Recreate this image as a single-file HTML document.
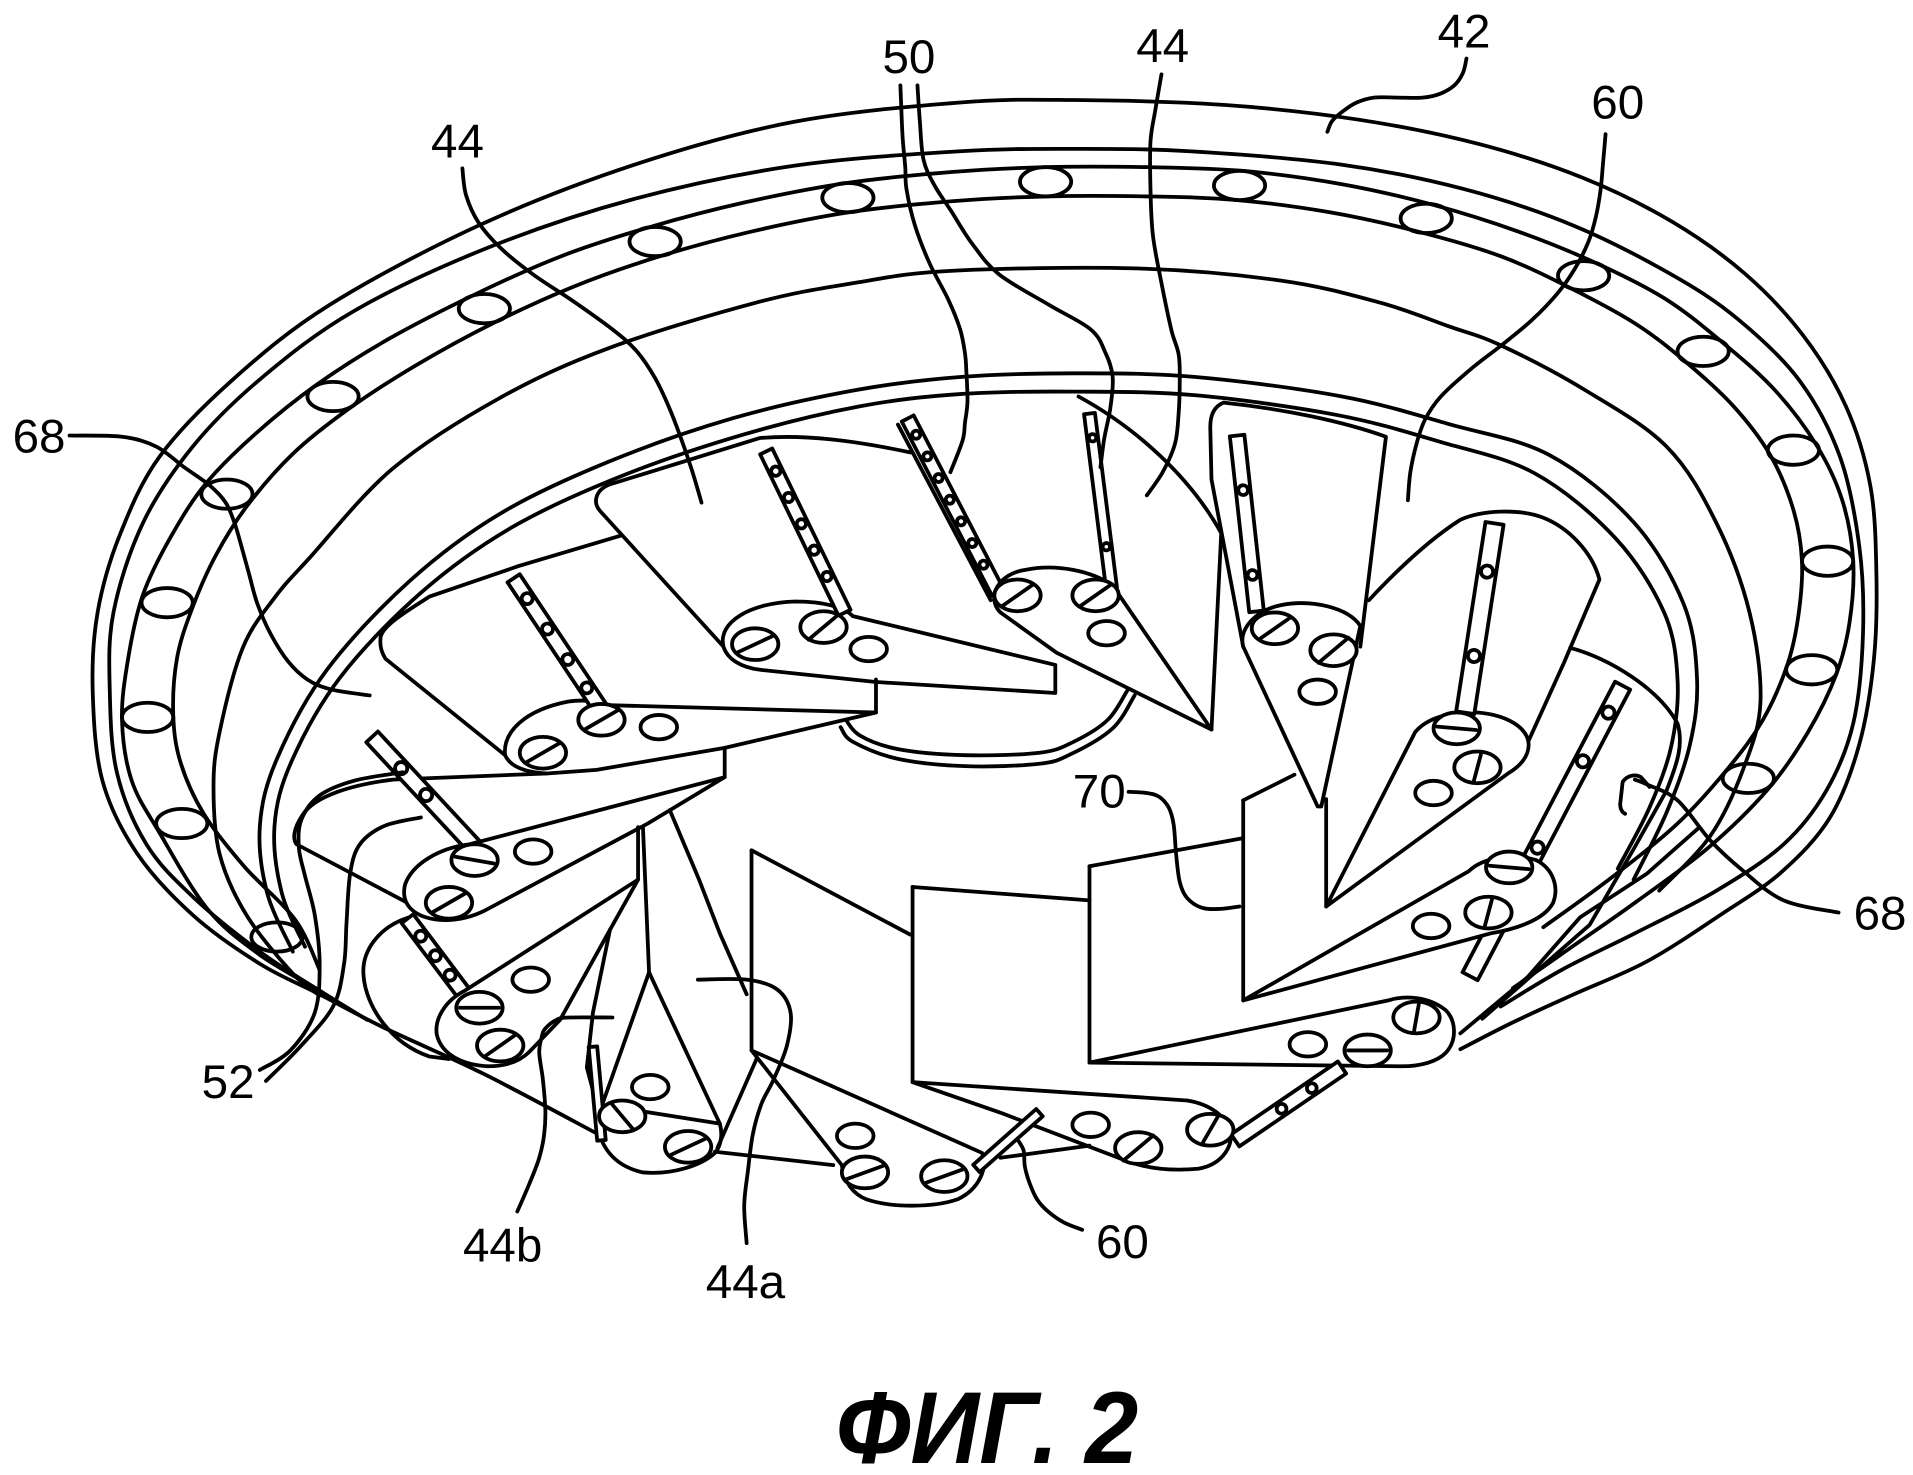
<!DOCTYPE html>
<html><head><meta charset="utf-8"><style>
html,body{margin:0;padding:0;background:#fff;}
svg{display:block;}
</style></head><body>
<svg id="fig" width="1913" height="1475" viewBox="0 0 1568 1209" preserveAspectRatio="none" xmlns="http://www.w3.org/2000/svg">
<rect x="0" y="0" width="1568" height="1209" fill="#fff"/>
<g fill="none" stroke="#000" stroke-width="3.1" stroke-linejoin="round" stroke-linecap="round">
<!-- rings -->
<polyline class="s" points="489,929 396,880 314,842 262,815 213,790 158,750 112,699 84,640 76,567 80,502 98,439 131,374 191,311 270,250 392,185 520,135 650,100 787,84 880,82 1003,86 1113,98 1212,118 1298,146 1371,182 1431,225 1478,275 1513,333 1533,398 1538,470 1536,540 1524,610 1500,670 1460,715 1410,750 1350,788 1290,815 1240,838 1197,860"/>
<polyline class="s" points="301,836 262,812 213,780 158,735 120,692 96,634 90,567 93,502 117,429 158,366 213,311 290,255 400,203 520,163 650,136 787,124 880,122 975,124 1100,135 1200,155 1290,185 1370,225 1425,262 1475,312 1508,374 1524,448 1527,520 1519,593 1497,648 1462,692 1407,730 1340,765 1280,795 1230,825"/>
<polyline class="s" points="262,812 212,782 170,745 131,683 108,640 100,590 105,540 117,488 140,440 169,396 210,355 260,315 320,277 390,241 460,210 533,186 610,166 694,150 780,141 857,137 940,137 1018,140 1100,151 1175,168 1245,190 1309,216 1365,245 1411,280 1455,320 1489,365 1510,410 1519,460 1516,510 1505,553 1482,600 1449,647 1400,695 1340,740 1290,775 1240,810"/>
<polyline class="s" points="262,795 242,754 200,710 167,667 148,625 142,586 145,540 157,500 177,455 203,414 240,372 286,335 340,300 404,265 470,235 541,210 615,190 696,174 780,165 857,161 940,161 1014,164 1090,174 1163,190 1230,210 1287,236 1340,265 1381,296 1420,332 1451,373 1470,418 1477,460 1474,505 1465,545 1445,590 1417,629 1375,675 1320,720 1265,760"/>
<polyline class="s" points="262,816 240,798 202,750 180,700 175,645 180,600 199,531 225,490 254,457 322,384 410,326 500,285 620,248 700,232 779,222 930,220 1050,230 1131,248 1189,268 1230,283 1298,319 1366,366 1407,429 1434,502 1443,575 1429,630 1402,685 1360,730"/>
<polyline class="s" points="240,780 219,732 213,677 227,622 268,549 336,476 410,421 500,378 600,343 700,320 787,309 880,306 980,309 1100,325 1189,348 1270,373 1339,428 1380,495 1391,557 1385,611 1366,666 1339,721"/>
<polyline class="s" points="250,776 231,732 225,677 239,624 279,555 346,485 420,432 510,390 610,356 705,333 787,323 880,321 980,324 1095,340 1180,362 1258,388 1324,441 1364,502 1375,557 1370,611 1352,662 1326,712"/>
<!-- bolt holes -->
<g>
<ellipse cx="227" cy="768" rx="21" ry="12"/><ellipse cx="149" cy="675" rx="21" ry="12"/><ellipse cx="121" cy="588" rx="21" ry="12"/><ellipse cx="137" cy="494" rx="21" ry="12"/><ellipse cx="186" cy="405" rx="21" ry="12"/><ellipse cx="273" cy="325" rx="21" ry="12"/><ellipse cx="397" cy="253" rx="21" ry="12"/><ellipse cx="537" cy="198" rx="21" ry="12"/><ellipse cx="695" cy="162" rx="21" ry="12"/><ellipse cx="857" cy="149" rx="21" ry="12"/><ellipse cx="1016" cy="152" rx="21" ry="12"/><ellipse cx="1169" cy="179" rx="21" ry="12"/><ellipse cx="1298" cy="226" rx="21" ry="12"/><ellipse cx="1396" cy="288" rx="21" ry="12"/><ellipse cx="1470" cy="369" rx="21" ry="12"/><ellipse cx="1498" cy="460" rx="21" ry="12"/><ellipse cx="1485" cy="549" rx="21" ry="12"/><ellipse cx="1433" cy="638" rx="21" ry="12"/>
</g>
<!-- hub -->
<polyline class="s" points="692,588 705,603 736,614 791,619 852,617 880,608 908,590 924,566"/>
<polyline class="s" points="689,596 699,608 736,622 791,628 852,626 878,618 912,597 930,570"/>

<!-- V-T3 -->
<path d="M1003,330 C1050,335 1100,345 1136,358 L1115,530"/>
<path d="M1003,330 C995,333 992,340 992,350 L993,393 L1019,530"/>
<path d="M1019,530 C1015,515 1030,500 1050,496 C1075,491 1105,498 1115,513 L1083,661 L1080,661 Z" fill="#fff"/>
<g transform="translate(1014,357) rotate(83.7)"><rect x="0" y="-6" width="145" height="12" fill="#fff"/><circle cx="45" cy="0" r="4"/><circle cx="115" cy="0" r="4"/></g>
<g transform="translate(1045,515)"><ellipse rx="19" ry="13" fill="#fff"/><line x1="-16" y1="0" x2="16" y2="0" transform="rotate(-35)"/></g>
<g transform="translate(1093,533)"><ellipse rx="19" ry="13" fill="#fff"/><line x1="-16" y1="0" x2="16" y2="0" transform="rotate(-40)"/></g>
<ellipse cx="1080" cy="567" rx="15" ry="10" fill="#fff"/>

<!-- V-A -->
<path d="M747,371 C700,361 660,356 623,359 L500,397 C489,401 485,411 492,419 L593,530"/>
<path d="M593,530 C588,510 615,494 652,493 C676,493 692,498 699,505 L865,545 L865,568 L718,559 L623,549 C607,547 596,540 593,530 Z" fill="#fff"/>
<g transform="translate(628,370) rotate(64.1)"><rect x="0" y="-5.5" width="147" height="11" fill="#fff"/><circle cx="18" cy="0" r="3.8"/><circle cx="42" cy="0" r="3.8"/><circle cx="66" cy="0" r="3.8"/><circle cx="90" cy="0" r="3.8"/><circle cx="114" cy="0" r="3.8"/></g>
<g transform="translate(619,528)"><ellipse rx="19" ry="13" fill="#fff"/><line x1="-16" y1="0" x2="16" y2="0" transform="rotate(-25)"/></g>
<g transform="translate(675,514)"><ellipse rx="19" ry="13" fill="#fff"/><line x1="-16" y1="0" x2="16" y2="0" transform="rotate(-40)"/></g>
<ellipse cx="712" cy="532" rx="15" ry="10" fill="#fff"/>

<!-- V_top1 -->
<path d="M884,325 C930,350 975,390 1001,437 L993,598"/>
<path d="M736,348 L812,492"/>
<g transform="translate(744,343) rotate(62.6)"><rect x="0" y="-5.5" width="161" height="11" fill="#fff"/><circle cx="15" cy="0" r="3.3"/><circle cx="35" cy="0" r="3.3"/><circle cx="55" cy="0" r="3.3"/><circle cx="75" cy="0" r="3.3"/><circle cx="95" cy="0" r="3.3"/><circle cx="115" cy="0" r="3.3"/><circle cx="135" cy="0" r="3.3"/></g>
<path d="M820,502 C808,490 818,470 841,467 C866,462 895,468 912,480 L993,598 L866,535 Z" fill="#fff"/>
<g transform="translate(893,339) rotate(82.8)"><rect x="0" y="-4.5" width="144" height="9" fill="#fff"/><circle cx="20" cy="0" r="3"/><circle cx="110" cy="0" r="3"/></g>
<g transform="translate(834,488)"><ellipse rx="19" ry="13" fill="#fff"/><line x1="-16" y1="0" x2="16" y2="0" transform="rotate(-35)"/></g>
<g transform="translate(898,488)"><ellipse rx="19" ry="13" fill="#fff"/><line x1="-16" y1="0" x2="16" y2="0" transform="rotate(-35)"/></g>
<ellipse cx="907" cy="519" rx="15" ry="10" fill="#fff"/>

<!-- V-R1 -->
<path d="M1122,492 C1150,462 1175,440 1197,426 C1215,418 1245,417 1264,424 C1285,432 1305,452 1311,475 L1282,543 L1253,607"/>
<path d="M1087,655 L1087,743"/>
<path d="M1087,743 L1160,600 C1170,588 1190,583 1211,584 C1235,586 1252,596 1253,610 C1253,620 1246,628 1236,634 Z" fill="#fff"/>
<g transform="translate(1225,429) rotate(98.8)"><rect x="0" y="-7.5" width="157" height="15" fill="#fff"/><circle cx="40" cy="0" r="5"/><circle cx="110" cy="0" r="5"/></g>
<g transform="translate(1194,597)"><ellipse rx="19" ry="13" fill="#fff"/><line x1="-16" y1="0" x2="16" y2="0" transform="rotate(5)"/></g>
<g transform="translate(1211,629)"><ellipse rx="19" ry="13" fill="#fff"/><line x1="-11" y1="0" x2="11" y2="0" transform="rotate(-75)"/></g>
<ellipse cx="1175" cy="650" rx="15" ry="10" fill="#fff"/>

<!-- V-B -->
<path d="M509,439 L425,464 L352,489 C330,503 314,513 312,522 C311,530 313,535 316,540 L414,619"/>
<path d="M718,557 L718,584"/>
<path d="M414,619 C412,600 430,582 466,575 C480,573 490,575 498,578 L718,584 L594,613 L489,631 L448,634 C430,633 418,628 414,619 Z" fill="#fff"/>
<g transform="translate(421,474) rotate(56.3)"><rect x="0" y="-6" width="130" height="12" fill="#fff"/><circle cx="20" cy="0" r="4.5"/><circle cx="50" cy="0" r="4.5"/><circle cx="80" cy="0" r="4.5"/><circle cx="108" cy="0" r="4.5"/></g>
<g transform="translate(445,617)"><ellipse rx="19" ry="13" fill="#fff"/><line x1="-16" y1="0" x2="16" y2="0" transform="rotate(-30)"/></g>
<g transform="translate(493,590)"><ellipse rx="19" ry="13" fill="#fff"/><line x1="-16" y1="0" x2="16" y2="0" transform="rotate(-30)"/></g>
<ellipse cx="540" cy="596" rx="15" ry="10" fill="#fff"/>

<!-- V-R2 -->
<path d="M1287,531 C1320,540 1360,565 1375,593 C1380,610 1375,625 1366,648 L1339,696 L1303,758 L1255,800 L1215,835"/>
<path d="M1019,656 L1061,635"/>
<path d="M1019,656 L1019,820"/>
<g transform="translate(1330,562) rotate(117.7)"><rect x="0" y="-7" width="269" height="14" fill="#fff"/><circle cx="25" cy="0" r="5"/><circle cx="70" cy="0" r="5"/><circle cx="150" cy="0" r="5"/><circle cx="185" cy="0" r="5"/><circle cx="215" cy="0" r="5"/></g>
<path d="M1019,820 L1204,714 C1215,703 1240,699 1259,705 C1273,712 1278,727 1273,740 C1265,755 1240,762 1222,765 Z" fill="#fff"/>
<g transform="translate(1237,711)"><ellipse rx="19" ry="13" fill="#fff"/><line x1="-16" y1="0" x2="16" y2="0" transform="rotate(5)"/></g>
<g transform="translate(1220,748)"><ellipse rx="19" ry="13" fill="#fff"/><line x1="-11" y1="0" x2="11" y2="0" transform="rotate(-75)"/></g>
<ellipse cx="1173" cy="759" rx="15" ry="10" fill="#fff"/>

<!-- V-C -->
<path d="M594,613 L594,637"/>
<path d="M448,634 L322,639 C290,643 258,652 248,668 C240,680 240,688 243,692 L334,740"/>
<g transform="translate(305,604) rotate(47.1)"><rect x="0" y="-6.5" width="137" height="13" fill="#fff"/><circle cx="35" cy="0" r="5"/><circle cx="65" cy="0" r="5"/></g>
<path d="M594,637 L385,692 C360,695 338,708 332,725 C328,742 340,752 360,754 C375,755 388,751 398,746 L531,675 Z" fill="#fff"/>
<g transform="translate(389,705)"><ellipse rx="19" ry="13" fill="#fff"/><line x1="-16" y1="0" x2="16" y2="0" transform="rotate(10)"/></g>
<g transform="translate(368,740)"><ellipse rx="19" ry="13" fill="#fff"/><line x1="-16" y1="0" x2="16" y2="0" transform="rotate(-30)"/></g>
<ellipse cx="437" cy="698" rx="15" ry="10" fill="#fff"/>

<!-- V-R3 -->
<path d="M893,710 L1019,687"/>
<path d="M893,710 L893,871"/>
<path d="M1197,847 L1252,801 L1295,752 L1350,716 L1393,678"/>
<path d="M893,871 L1138,820 C1150,816 1170,816 1185,828 C1193,836 1195,852 1185,863 C1178,870 1165,874 1149,874 Z" fill="#fff"/>
<g transform="translate(1161,834)"><ellipse rx="19" ry="13" fill="#fff"/><line x1="-11" y1="0" x2="11" y2="0" transform="rotate(-80)"/></g>
<g transform="translate(1121,861)"><ellipse rx="19" ry="13" fill="#fff"/><line x1="-16" y1="0" x2="16" y2="0"/></g>
<ellipse cx="1072" cy="856" rx="15" ry="10" fill="#fff"/>
<g transform="translate(1100,875) rotate(145.7)"><rect x="0" y="-6" width="106" height="12" fill="#fff"/><circle cx="30" cy="0" r="4"/><circle cx="60" cy="0" r="4"/></g>

<!-- V-D -->
<path d="M523,678 L523,721"/>
<path d="M335,752 C310,760 296,780 298,800 C300,825 320,855 352,866 L368,868"/>
<g transform="translate(334,753) rotate(53)"><rect x="0" y="-6" width="76" height="12" fill="#fff"/><circle cx="18" cy="0" r="4.5"/><circle cx="38" cy="0" r="4.5"/><circle cx="58" cy="0" r="4.5"/></g>
<path d="M523,721 L381,812 C365,820 356,835 358,848 C362,865 380,873 400,874 C418,874 428,868 434,862 L459,836 L500,762 Z" fill="#fff"/>
<g transform="translate(393,826)"><ellipse rx="19" ry="13" fill="#fff"/><line x1="-16" y1="0" x2="16" y2="0"/></g>
<g transform="translate(410,857)"><ellipse rx="19" ry="13" fill="#fff"/><line x1="-16" y1="0" x2="16" y2="0" transform="rotate(-35)"/></g>
<ellipse cx="435" cy="803" rx="15" ry="10" fill="#fff"/>

<!-- V-R4 -->
<path d="M748,727 L893,738"/>
<path d="M748,727 L748,887"/>
<path d="M748,887 L973,902 C992,905 1005,915 1009,928 C1010,942 1000,955 982,958 C960,960 940,958 922,951 L820,912 Z" fill="#fff"/>
<g transform="translate(992,926)"><ellipse rx="19" ry="13" fill="#fff"/><line x1="-14" y1="0" x2="14" y2="0" transform="rotate(-60)"/></g>
<g transform="translate(933,941)"><ellipse rx="19" ry="13" fill="#fff"/><line x1="-16" y1="0" x2="16" y2="0" transform="rotate(-40)"/></g>
<ellipse cx="894" cy="922" rx="15" ry="10" fill="#fff"/>
<path d="M820,949 L893,939"/>

<!-- V-E (44b) -->
<path d="M527,678 L532,797"/>
<path d="M500,762 L486,830 L481,875 L489,905"/>
<path d="M549,664 L573,721 L590,765 L612,815"/>
<path d="M532,797 L492,910"/>
<path d="M532,797 L590,921"/>
<path d="M489,905 C487,935 500,955 527,961 C552,963 575,955 586,945 C592,938 592,928 590,921 Z" fill="#fff"/>
<g transform="translate(486,858) rotate(84.8)"><rect x="0" y="-3.5" width="77" height="7" fill="#fff"/></g>
<g transform="translate(510,915)"><ellipse rx="19" ry="13" fill="#fff"/><line x1="-13" y1="0" x2="13" y2="0" transform="rotate(50)"/></g>
<g transform="translate(564,940)"><ellipse rx="19" ry="13" fill="#fff"/><line x1="-16" y1="0" x2="16" y2="0" transform="rotate(-25)"/></g>
<ellipse cx="533" cy="891" rx="15" ry="10" fill="#fff"/>
<path d="M586,944 L683,955"/>
<path d="M621,866 L588,941"/>

<!-- V-F (44a) -->
<path d="M616,697 L746,766"/>
<path d="M616,697 L616,861"/>
<path d="M616,861 L805,945 C810,958 802,975 785,983 C765,990 730,990 710,983 C698,978 692,968 690,955 Z" fill="#fff"/>
<g transform="translate(709,961)"><ellipse rx="19" ry="13" fill="#fff"/><line x1="-16" y1="0" x2="16" y2="0" transform="rotate(-20)"/></g>
<g transform="translate(774,964)"><ellipse rx="19" ry="13" fill="#fff"/><line x1="-16" y1="0" x2="16" y2="0" transform="rotate(-20)"/></g>
<ellipse cx="701" cy="931" rx="15" ry="10" fill="#fff"/>
<g transform="translate(852,912) rotate(138.5)"><rect x="0" y="-4" width="69" height="8" fill="#fff"/></g>

<!-- 68 tab -->
<path d="M1328,659 L1330,641 C1333,636 1340,634 1345,637 L1352,645"/>
<path d="M1328,659 C1328,664 1330,666 1332,667"/>

<!-- leaders -->
<polyline class="s" points="57,357 100,358 128,366 151,383 172,398 185,412 192,428 196,441 204,470 211,495 222,520 236,542 252,557 271,565 303,570"/>
<polyline class="s" points="379,138 382,160 392,182 410,203 437,225 470,247 502,270 522,288 537,310 548,333 557,356 567,385 575,412"/>
<polyline class="s" points="738,70 739,95 740,115 742,137 743,155 750,185 762,216 777,245 787,270 791,290 792,303 793,329 791,346 789,361 779,387"/>
<polyline class="s" points="752,70 754,100 757,131 766,152 779,172 797,200 819,225 860,250 894,270 906,289 912,309 910,335 905,360 902,383"/>
<polyline class="s" points="952,61 947,90 943,116 943,155 945,193 952,232 960,270 966,290 967,310 966,340 963,364 953,387 940,406"/>
<polyline class="s" points="1202,48 1199,60 1192,70 1180,77 1166,80 1146,80 1126,80 1112,84 1101,91 1092,99 1088,108"/>
<polyline class="s" points="1316,110 1314,133 1312,155 1308,178 1302,198 1291,220 1277,240 1256,262 1232,282 1205,303 1181,325 1168,344 1161,364 1156,387 1154,410"/>
<polyline class="s" points="1507,748 1462,738 1429,714 1402,689 1375,656 1350,643 1340,639"/>
<polyline class="s" points="925,649 940,650 950,653 958,662 962,676 964,700 967,723 973,736 985,744 1000,745 1016,743"/>
<polyline class="s" points="887,1008 872,1002 859,993 850,983 844,970 840,956 839,943 834,934"/>
<polyline class="s" points="213,877 238,861 258,830 262,790 258,750 250,718 245,695 247,672 262,652 290,640 330,633"/>
<polyline class="s" points="218,886 246,858 273,825 282,790 284,757 287,716 295,692 315,677 345,670"/>
<polyline class="s" points="424,993 434,970 442,949 446,930 447,910 445,885 442,863 444,850 447,843 456,836 466,834 502,834"/>
<polyline class="s" points="612,1019 610,988 613,960 617,930 624,905 634,885 645,857 648,830 637,811 612,803 572,803"/>
</g>
<g font-family="'Liberation Sans', Arial, sans-serif" font-size="39" fill="#000" text-anchor="middle">
<text x="32" y="371">68</text>
<text x="375" y="129">44</text>
<text x="745" y="60">50</text>
<text x="953" y="51">44</text>
<text x="1200" y="39">42</text>
<text x="1326" y="97">60</text>
<text x="1541" y="762">68</text>
<text x="901" y="662">70</text>
<text x="920" y="1031">60</text>
<text x="187" y="900">52</text>
<text x="412" y="1034">44b</text>
<text x="611" y="1064">44a</text>
</g>
<text x="685" y="1199" font-family="'Liberation Sans', 'DejaVu Sans', sans-serif" font-size="84" font-weight="bold" font-style="italic" textLength="248" lengthAdjust="spacingAndGlyphs" fill="#000">ФИГ. 2</text>
</svg>
<script>
(function(){
var pls=document.querySelectorAll('polyline.s');
for(var k=0;k<pls.length;k++){
var pl=pls[k];
var a=pl.getAttribute('points').trim().split(/\s+/).map(function(s){var q=s.split(',');return[+q[0],+q[1]];});
var n=a.length;if(n<3)continue;
var d='M'+a[0][0]+','+a[0][1];
for(var i=0;i<n-1;i++){
var p0=a[i>0?i-1:0],p1=a[i],p2=a[i+1],p3=a[i+2<n?i+2:n-1];
var c1x=p1[0]+(p2[0]-p0[0])/6,c1y=p1[1]+(p2[1]-p0[1])/6,c2x=p2[0]-(p3[0]-p1[0])/6,c2y=p2[1]-(p3[1]-p1[1])/6;
d+=' C'+c1x.toFixed(1)+','+c1y.toFixed(1)+' '+c2x.toFixed(1)+','+c2y.toFixed(1)+' '+p2[0]+','+p2[1];
}
var p=document.createElementNS('http://www.w3.org/2000/svg','path');
p.setAttribute('d',d);
pl.parentNode.replaceChild(p,pl);
}
})();
</script>
</body></html>
